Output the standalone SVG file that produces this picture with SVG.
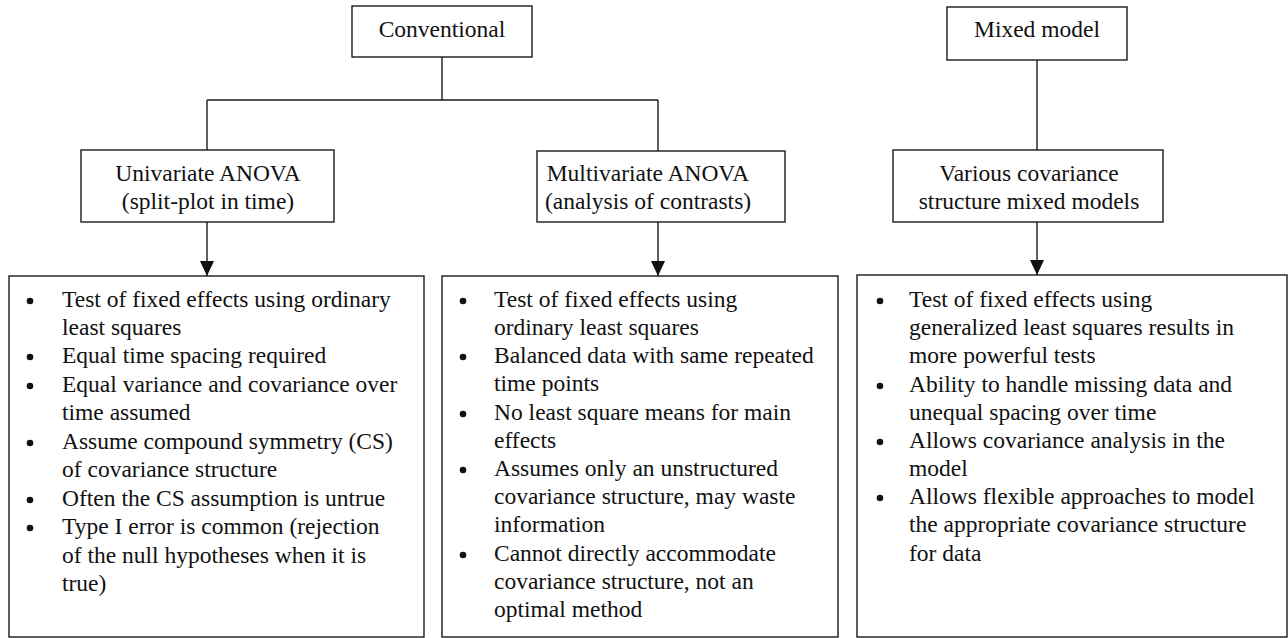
<svg xmlns="http://www.w3.org/2000/svg" width="1288" height="638" viewBox="0 0 1288 638">
<style>
.box{fill:#fff;stroke:#1a1a1a;stroke-width:1.4}
.t{font-family:'Liberation Serif','Times New Roman',Times,'Noto Serif','Nimbus Roman','Nimbus Roman No9 L',FreeSerif,Tinos,'DejaVu Serif',serif;font-size:23.5px;fill:#111}
.c{text-anchor:middle}
.ln{stroke:#1a1a1a;stroke-width:1.4;fill:none}
.b{fill:#111}
</style>
<defs>
<marker id="arr" markerUnits="userSpaceOnUse" markerWidth="16" markerHeight="14" refX="15" refY="7" orient="auto">
<path d="M0,0 L15,7 L0,14 Z" fill="#111"/>
</marker>
</defs>
<rect width="1288" height="638" fill="#fff"/>
<g id="connectors">
<line class="ln" x1="442" y1="57" x2="442" y2="100"/>
<line class="ln" x1="207" y1="100" x2="658" y2="100"/>
<line class="ln" x1="207" y1="100" x2="207" y2="150"/>
<line class="ln" x1="658" y1="100" x2="658" y2="151"/>
<line class="ln" x1="1037" y1="60" x2="1037" y2="150"/>
<line class="ln" x1="207" y1="222" x2="207" y2="276" marker-end="url(#arr)"/>
<line class="ln" x1="658" y1="222" x2="658" y2="276" marker-end="url(#arr)"/>
<line class="ln" x1="1037" y1="222" x2="1037" y2="275" marker-end="url(#arr)"/>
</g>
<g id="conventional">
<rect class="box" x="352" y="6" width="180" height="51"/>
<text class="t c" x="442" y="37">Conventional</text>
</g>
<g id="mixed-model">
<rect class="box" x="947" y="7" width="180" height="53"/>
<text class="t c" x="1037" y="37">Mixed model</text>
</g>
<g id="univariate">
<rect class="box" x="81" y="150" width="253" height="72"/>
<text class="t c" x="208" y="181">Univariate ANOVA</text>
<text class="t c" x="208" y="209">(split-plot in time)</text>
</g>
<g id="multivariate">
<rect class="box" x="537" y="151" width="248" height="71"/>
<text class="t c" x="648" y="181">Multivariate ANOVA</text>
<text class="t c" x="648" y="209">(analysis of contrasts)</text>
</g>
<g id="various">
<rect class="box" x="893" y="150" width="270" height="72"/>
<text class="t c" x="1029" y="181">Various covariance</text>
<text class="t c" x="1029" y="209">structure mixed models</text>
</g>
<g id="univariate-list">
<rect class="box" x="9" y="276" width="415" height="361"/>
<circle class="b" cx="30" cy="301" r="3.3"/>
<circle class="b" cx="30" cy="357" r="3.3"/>
<circle class="b" cx="30" cy="386" r="3.3"/>
<circle class="b" cx="30" cy="443" r="3.3"/>
<circle class="b" cx="30" cy="500" r="3.3"/>
<circle class="b" cx="30" cy="528" r="3.3"/>
<text class="t" x="62" y="307">Test of fixed effects using ordinary</text>
<text class="t" x="62" y="335">least squares</text>
<text class="t" x="62" y="363">Equal time spacing required</text>
<text class="t" x="62" y="392">Equal variance and covariance over</text>
<text class="t" x="62" y="420">time assumed</text>
<text class="t" x="62" y="449">Assume compound symmetry (CS)</text>
<text class="t" x="62" y="477">of covariance structure</text>
<text class="t" x="62" y="506">Often the CS assumption is untrue</text>
<text class="t" x="62" y="534">Type I error is common (rejection</text>
<text class="t" x="62" y="563">of the null hypotheses when it is</text>
<text class="t" x="62" y="591">true)</text>
</g>
<g id="multivariate-list">
<rect class="box" x="442" y="276" width="396" height="361"/>
<circle class="b" cx="463" cy="301" r="3.3"/>
<circle class="b" cx="463" cy="357" r="3.3"/>
<circle class="b" cx="463" cy="414" r="3.3"/>
<circle class="b" cx="463" cy="470" r="3.3"/>
<circle class="b" cx="463" cy="555" r="3.3"/>
<text class="t" x="494" y="307">Test of fixed effects using</text>
<text class="t" x="494" y="335">ordinary least squares</text>
<text class="t" x="494" y="363">Balanced data with same repeated</text>
<text class="t" x="494" y="391">time points</text>
<text class="t" x="494" y="420">No least square means for main</text>
<text class="t" x="494" y="448">effects</text>
<text class="t" x="494" y="476">Assumes only an unstructured</text>
<text class="t" x="494" y="504">covariance structure, may waste</text>
<text class="t" x="494" y="532">information</text>
<text class="t" x="494" y="561">Cannot directly accommodate</text>
<text class="t" x="494" y="589">covariance structure, not an</text>
<text class="t" x="494" y="617">optimal method</text>
</g>
<g id="mixed-list">
<rect class="box" x="857" y="275" width="430" height="362"/>
<circle class="b" cx="880" cy="301" r="3.3"/>
<circle class="b" cx="880" cy="386" r="3.3"/>
<circle class="b" cx="880" cy="442" r="3.3"/>
<circle class="b" cx="880" cy="498" r="3.3"/>
<text class="t" x="909" y="307">Test of fixed effects using</text>
<text class="t" x="909" y="335">generalized least squares results in</text>
<text class="t" x="909" y="363">more powerful tests</text>
<text class="t" x="909" y="392">Ability to handle missing data and</text>
<text class="t" x="909" y="420">unequal spacing over time</text>
<text class="t" x="909" y="448">Allows covariance analysis in the</text>
<text class="t" x="909" y="476">model</text>
<text class="t" x="909" y="504">Allows flexible approaches to model</text>
<text class="t" x="909" y="532">the appropriate covariance structure</text>
<text class="t" x="909" y="561">for data</text>
</g>
</svg>
